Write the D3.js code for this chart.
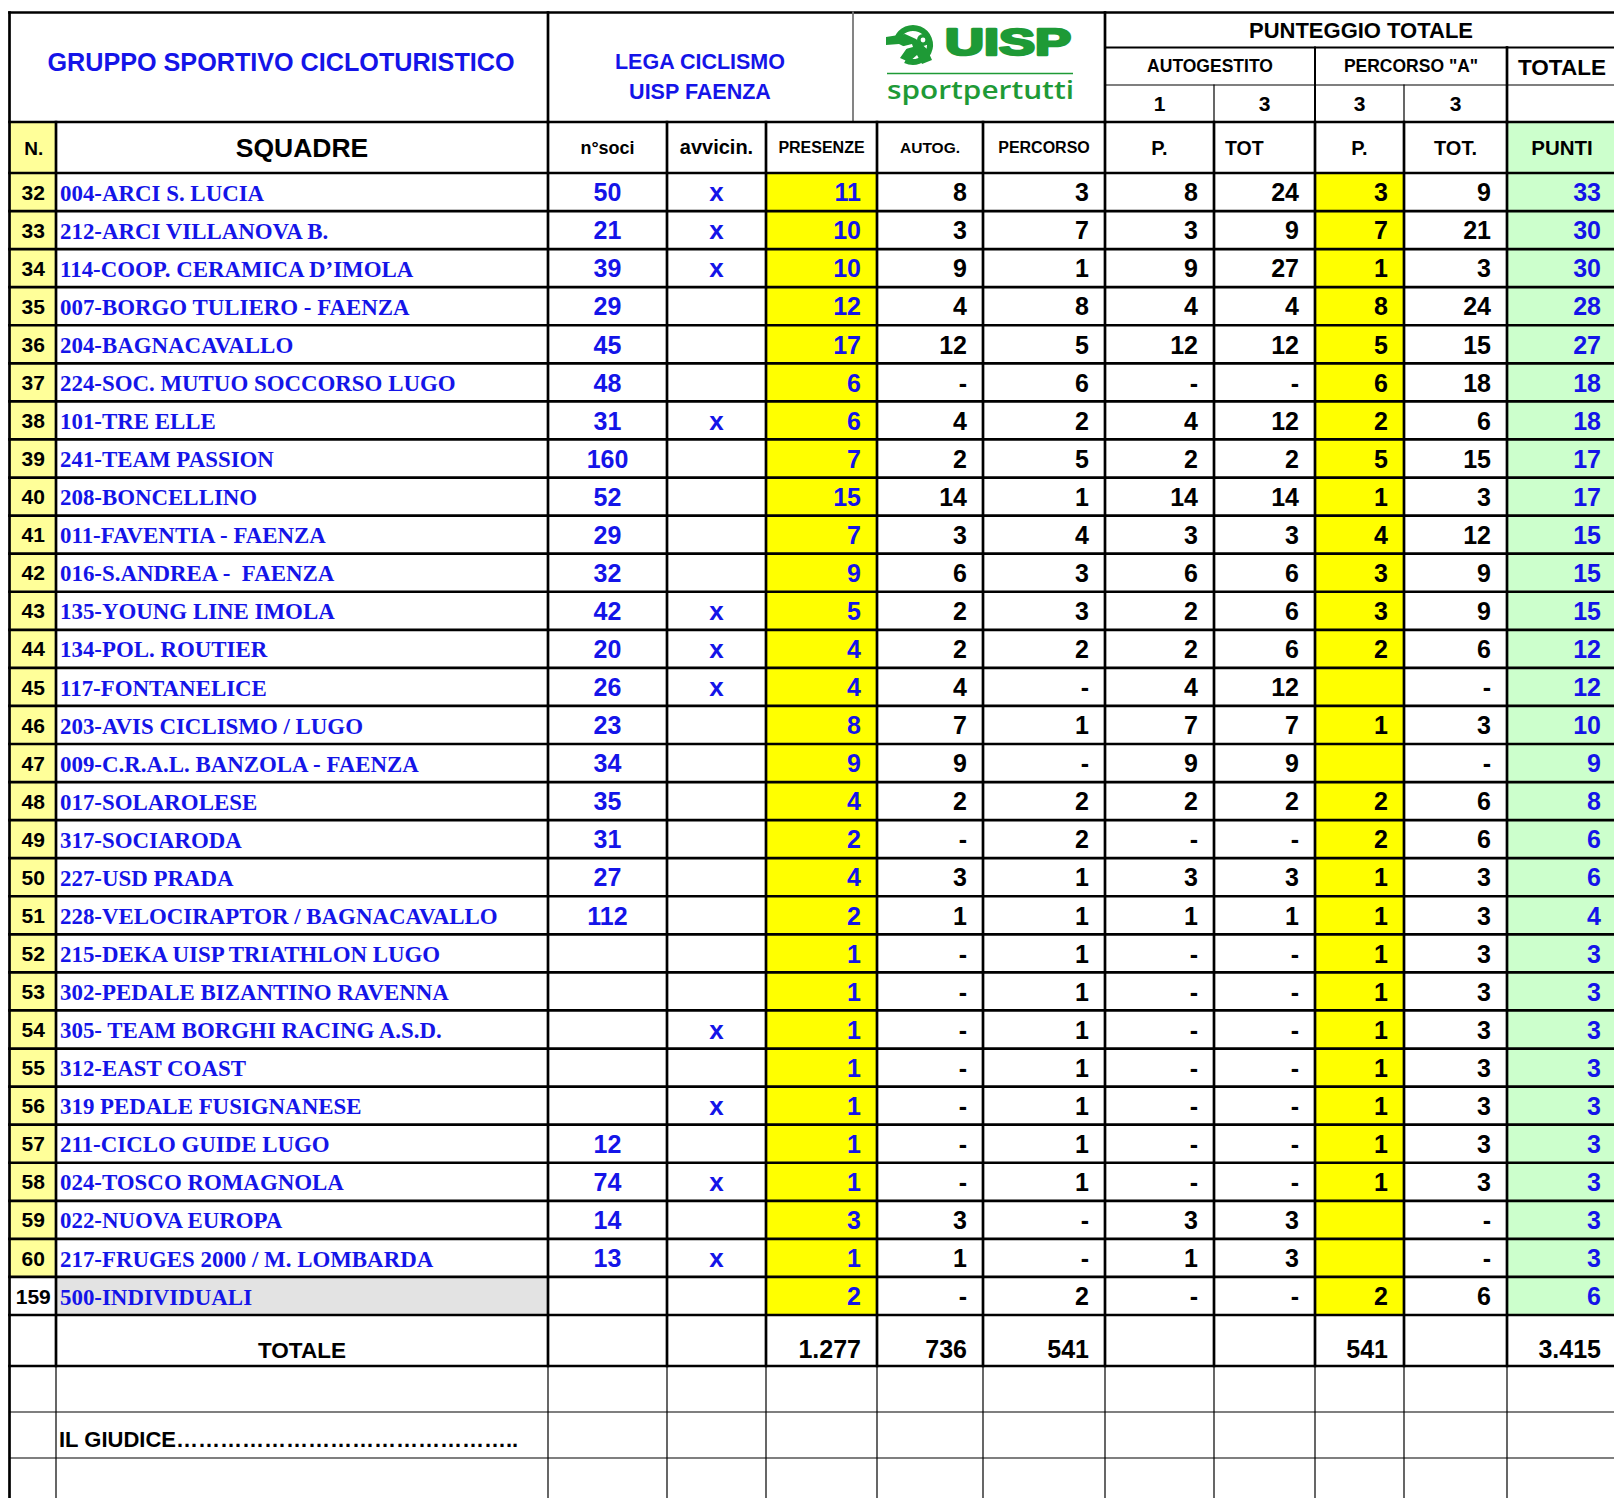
<!DOCTYPE html>
<html>
<head>
<meta charset="utf-8">
<script src="https://cdn.jsdelivr.net/npm/d3@7"></script>
<style>
  body { margin: 0; background: #fff; }
  svg { display: block; }
</style>
</head>
<body>
<div id="chart"></div>
<script>
// data
const teamNumbers = [32, 33, 34, 35, 36, 37, 38, 39, 40, 41, 42, 43, 44, 45, 46, 47, 48, 49, 50, 51, 52, 53, 54, 55, 56, 57, 58, 59, 60, 159]
const teamNames = [
  '004-ARCI S. LUCIA', '212-ARCI VILLANOVA B.', '114-COOP. CERAMICA D’IMOLA', '007-BORGO TULIERO - FAENZA',
  '204-BAGNACAVALLO', '224-SOC. MUTUO SOCCORSO LUGO', '101-TRE ELLE', '241-TEAM PASSION', '208-BONCELLINO',
  '011-FAVENTIA - FAENZA', '016-S.ANDREA -  FAENZA', '135-YOUNG LINE IMOLA', '134-POL. ROUTIER', '117-FONTANELICE',
  '203-AVIS CICLISMO / LUGO', '009-C.R.A.L. BANZOLA - FAENZA', '017-SOLAROLESE', '317-SOCIARODA', '227-USD PRADA',
  '228-VELOCIRAPTOR / BAGNACAVALLO', '215-DEKA UISP TRIATHLON LUGO', '302-PEDALE BIZANTINO RAVENNA',
  '305- TEAM BORGHI RACING A.S.D.', '312-EAST COAST', '319 PEDALE FUSIGNANESE', '211-CICLO GUIDE LUGO',
  '024-TOSCO ROMAGNOLA', '022-NUOVA EUROPA', '217-FRUGES 2000 / M. LOMBARDA', '500-INDIVIDUALI',
]
const soci = [50, 21, 39, 29, 45, 48, 31, 160, 52, 29, 32, 42, 20, 26, 23, 34, 35, 31, 27, 112, null, null, null, null, null, 12, 74, 14, 13, null]
const avvicin = ['x', 'x', 'x', '', '', '', 'x', '', '', '', '', 'x', 'x', 'x', '', '', '', '', '', '', '', '', 'x', '', 'x', '', 'x', '', 'x', '']
const presenze = [11, 10, 10, 12, 17, 6, 6, 7, 15, 7, 9, 5, 4, 4, 8, 9, 4, 2, 4, 2, 1, 1, 1, 1, 1, 1, 1, 3, 1, 2]
const autog = [8, 3, 9, 4, 12, 0, 4, 2, 14, 3, 6, 2, 2, 4, 7, 9, 2, 0, 3, 1, 0, 0, 0, 0, 0, 0, 0, 3, 1, 0]
const percorso = [3, 7, 1, 8, 5, 6, 2, 5, 1, 4, 3, 3, 2, 0, 1, 0, 2, 2, 1, 1, 1, 1, 1, 1, 1, 1, 1, 0, 0, 2]
const autogP = [8, 3, 9, 4, 12, 0, 4, 2, 14, 3, 6, 2, 2, 4, 7, 9, 2, 0, 3, 1, 0, 0, 0, 0, 0, 0, 0, 3, 1, 0]
const autogTot = [24, 9, 27, 4, 12, 0, 12, 2, 14, 3, 6, 6, 6, 12, 7, 9, 2, 0, 3, 1, 0, 0, 0, 0, 0, 0, 0, 3, 3, 0]
const percP = [3, 7, 1, 8, 5, 6, 2, 5, 1, 4, 3, 3, 2, null, 1, null, 2, 2, 1, 1, 1, 1, 1, 1, 1, 1, 1, null, null, 2]
const percTot = [9, 21, 3, 24, 15, 18, 6, 15, 3, 12, 9, 9, 6, 0, 3, 0, 6, 6, 3, 3, 3, 3, 3, 3, 3, 3, 3, 0, 0, 6]
const punti = [33, 30, 30, 28, 27, 18, 18, 17, 17, 15, 15, 15, 12, 12, 10, 9, 8, 6, 6, 4, 3, 3, 3, 3, 3, 3, 3, 3, 3, 6]
const totals = { pres: 1277, autog: 736, perc: 541, pP: 541, punti: 3415 }
const weights = ['1', '3', '3', '3']

;(function () {
  const W = 1614
  const H = 1498
  const BLUE = '#1414e8'
  const GREEN = '#1e9a36'
  const SANS = "'Liberation Sans', Arial, sans-serif"
  const SERIF = "'Liberation Serif', 'Times New Roman', serif"
  const THICK = 2.7

  const colKeys = ['n', 'name', 'soci', 'avv', 'pres', 'autog', 'perc', 'aP', 'aTot', 'pP', 'pTot', 'punti']
  const colEdges = [9.5, 56, 548, 667, 766, 877, 983, 1105, 1214, 1315, 1404, 1507, 1617]
  const colIdx = k => colKeys.indexOf(k)
  const left = k => colEdges[colIdx(k)]
  const right = k => colEdges[colIdx(k) + 1]
  const mid = k => (left(k) + right(k)) / 2

  const top = 12.5
  const y1 = 47.5
  const y2 = 85
  const yHead = 122
  const yBody = 173
  const yBodyEnd = 1315
  const yTot = 1366
  const blankRows = [1412, 1458]

  const row = d3.scaleBand().domain(d3.range(teamNumbers.length)).range([yBody, yBodyEnd])
  const fmt = d3.formatLocale({ decimal: ',', thousands: '.', grouping: [3], currency: ['', ''] }).format(',d')

  const svg = d3.select('#chart').append('svg').attr('width', W).attr('height', H)
  svg.append('rect').attr('width', W).attr('height', H).attr('fill', '#fff')

  // ---- fills
  const fills = svg.append('g')
  const idx = d3.range(teamNumbers.length)
  fills.selectAll('.nfill').data(idx.filter(i => teamNumbers[i] < 100)).join('rect')
    .attr('x', left('n')).attr('y', i => row(i)).attr('width', right('n') - left('n')).attr('height', row.bandwidth())
    .attr('fill', '#ffff99')
  fills.append('rect').attr('x', left('n')).attr('y', yHead).attr('width', right('n') - left('n')).attr('height', yBody - yHead).attr('fill', '#ffff99')
  fills.selectAll('.gfill').data(idx.filter(i => teamNumbers[i] >= 100)).join('rect')
    .attr('x', left('name')).attr('y', i => row(i)).attr('width', right('name') - left('name')).attr('height', row.bandwidth())
    .attr('fill', '#e3e3e3')
  ;['pres', 'pP'].forEach(k => {
    fills.append('rect').attr('x', left(k)).attr('y', yBody).attr('width', right(k) - left(k)).attr('height', yBodyEnd - yBody).attr('fill', '#ffff00')
  })
  fills.append('rect').attr('x', left('punti')).attr('y', yHead).attr('width', right('punti') - left('punti')).attr('height', yBodyEnd - yHead).attr('fill', '#ccffcc')

  // ---- grid lines
  const lines = svg.append('g').attr('stroke', '#000').attr('stroke-linecap', 'square')
  const hline = (x0, x1, y, w, c) => lines.append('line').attr('x1', x0).attr('x2', x1).attr('y1', y).attr('y2', y).attr('stroke-width', w).attr('stroke', c || '#000')
  const vline = (x, ya, yb, w, c) => lines.append('line').attr('x1', x).attr('x2', x).attr('y1', ya).attr('y2', yb).attr('stroke-width', w).attr('stroke', c || '#000')
  const xEnd = 1625

  // header top block
  hline(colEdges[0], xEnd, top, THICK)
  vline(548, top, yHead, THICK)
  vline(853, top, yHead, 1.8, '#777')
  vline(1105, top, yHead, THICK)
  hline(1105, xEnd, y1, 2)
  hline(1105, xEnd, y2, 1.2)
  vline(1315, y1, yHead, 2)
  vline(1507, y1, yHead, THICK)
  vline(1214, y2, yHead, 1.2)
  vline(1404, y2, yHead, 1.2)

  // body
  hline(colEdges[0], xEnd, yHead, THICK)
  hline(colEdges[0], xEnd, yBody, THICK)
  idx.forEach(i => hline(colEdges[0], xEnd, row(i) + row.bandwidth(), THICK))
  hline(colEdges[0], xEnd, yTot, THICK)
  blankRows.forEach(y => hline(colEdges[0], xEnd, y, 1.2))
  colEdges.slice(1).forEach(x => {
    vline(x, yHead, yTot, THICK)
    vline(x, yTot, H + 5, 1.2)
  })
  vline(colEdges[0], top, H + 5, THICK)

  // ---- text helper
  const txt = (x, y, s, o = {}) => svg.append('text')
    .attr('x', x).attr('y', y)
    .attr('text-anchor', o.anchor || 'middle')
    .attr('font-family', o.family || SANS)
    .attr('font-weight', o.weight || 'bold')
    .attr('font-size', o.size || 20)
    .attr('fill', o.fill || '#000')
    .text(s)

  // header top
  txt(281, 71, 'GRUPPO SPORTIVO CICLOTURISTICO', { size: 25, fill: BLUE }).attr('textLength', 467).attr('lengthAdjust', 'spacingAndGlyphs')
  txt(700, 69, 'LEGA CICLISMO', { size: 21.5, fill: BLUE })
  txt(700, 99, 'UISP FAENZA', { size: 21.5, fill: BLUE })
  txt(1361, 38, 'PUNTEGGIO TOTALE', { size: 22 })
  txt((1105 + 1315) / 2, 72, 'AUTOGESTITO', { size: 17.5 })
  txt((1315 + 1507) / 2, 72, 'PERCORSO "A"', { size: 17.5 })
  txt(1562, 75, 'TOTALE', { size: 22.5 })
  ;['aP', 'aTot', 'pP', 'pTot'].forEach((k, i) => txt(mid(k), 111, weights[i], { size: 21 }))

  // logo
  const logo = svg.append('g')
  logo.append('path').attr('fill', 'none').attr('stroke', GREEN).attr('stroke-width', 6)
    .attr('d', d3.arc()({ innerRadius: 17, outerRadius: 17, startAngle: -1.2, endAngle: 3.6 }))
    .attr('transform', 'translate(913,45)')
  logo.append('path').attr('fill', GREEN)
    .attr('d', 'M886,37 L905,34 L916,39 L927,49 L932,60 L922,64 L917,55 L909,62 L900,58 L907,48 L899,44 L886,45 Z')
  logo.append('circle').attr('cx', 923).attr('cy', 40).attr('r', 6).attr('fill', GREEN)
  logo.append('circle').attr('cx', 923).attr('cy', 40).attr('r', 2.4).attr('fill', '#fff')
  logo.append('path').attr('fill', '#fff').attr('d', 'M900,47 L912,44 L913,47 L902,50 Z')
  logo.append('text').attr('x', 945).attr('y', 55).attr('font-family', SANS).attr('font-weight', 'bold')
    .attr('font-size', 37).attr('fill', GREEN).attr('stroke', GREEN).attr('stroke-width', 2.6).attr('stroke-linejoin', 'round')
    .attr('textLength', 126).attr('lengthAdjust', 'spacingAndGlyphs').text('UISP')
  logo.append('line').attr('x1', 887).attr('x2', 1073).attr('y1', 73.5).attr('y2', 73.5).attr('stroke', GREEN).attr('stroke-width', 1.6)
  logo.append('text').attr('x', 887).attr('y', 98.5).attr('font-family', "'Open Sans', 'Noto Sans', sans-serif")
    .attr('font-size', 26).attr('font-weight', 600).attr('fill', GREEN)
    .attr('textLength', 187).attr('lengthAdjust', 'spacingAndGlyphs').text('sportpertutti')

  // header row 2
  const hb = (yHead + yBody) / 2
  txt(mid('n') + 1, hb + 7, 'N.', { size: 19 })
  txt(302, hb + 9.5, 'SQUADRE', { size: 26.5 })
  txt(mid('soci'), hb + 6, 'n°soci', { size: 18 })
  txt(mid('avv'), hb + 6, 'avvicin.', { size: 20 })
  txt(mid('pres'), hb + 5.5, 'PRESENZE', { size: 16 })
  txt(mid('autog'), hb + 5.5, 'AUTOG.', { size: 15.5 })
  txt(mid('perc'), hb + 5.5, 'PERCORSO', { size: 16 })
  txt(mid('aP'), hb + 7, 'P.', { size: 20 })
  txt(left('aTot') + 11, hb + 7, 'TOT', { size: 19.5, anchor: 'start' })
  txt(mid('pP'), hb + 7, 'P.', { size: 20 })
  txt(mid('pTot'), hb + 7, 'TOT.', { size: 20 })
  txt(mid('punti'), hb + 7, 'PUNTI', { size: 20.5 })

  // body cells
  const dash = v => (v === null ? '' : v === 0 ? '-' : String(v))
  const columns = [
    { key: 'soci', values: soci.map(v => (v === null ? '' : String(v))), fill: BLUE, anchor: 'middle' },
    { key: 'avv', values: avvicin, fill: BLUE, anchor: 'middle', size: 26 },
    { key: 'pres', values: presenze.map(String), fill: BLUE },
    { key: 'autog', values: autog.map(dash) },
    { key: 'perc', values: percorso.map(dash) },
    { key: 'aP', values: autogP.map(dash) },
    { key: 'aTot', values: autogTot.map(dash) },
    { key: 'pP', values: percP.map(dash) },
    { key: 'pTot', values: percTot.map(dash) },
    { key: 'punti', values: punti.map(String), fill: BLUE },
  ]
  const pad = 16
  const body = svg.append('g')
  const cy = i => row(i) + row.bandwidth() / 2

  body.selectAll('.num').data(idx).join('text')
    .attr('x', mid('n') + 0.5).attr('y', i => cy(i) + 7.6)
    .attr('text-anchor', 'middle').attr('font-family', SANS).attr('font-weight', 'bold').attr('font-size', 21)
    .text(i => teamNumbers[i])

  body.selectAll('.name').data(idx).join('text')
    .attr('x', left('name') + 4).attr('y', i => cy(i) + 8.6)
    .attr('font-family', SERIF).attr('font-weight', 'bold').attr('font-size', 22.9).attr('fill', BLUE)
    .style('white-space', 'pre')
    .text(i => teamNames[i])

  columns.forEach(c => {
    const anchor = c.anchor || 'end'
    const x = anchor === 'middle' ? mid(c.key) : right(c.key) - pad
    body.append('g').selectAll('text').data(idx).join('text')
      .attr('x', x).attr('y', i => cy(i) + 9.2)
      .attr('text-anchor', anchor).attr('font-family', SANS).attr('font-weight', 'bold')
      .attr('font-size', c.size || 25).attr('fill', c.fill || '#000')
      .text(i => c.values[i])
  })

  // totals row
  const ty = 1358
  txt(302, ty, 'TOTALE', { size: 22.5 })
  Object.keys(totals).forEach(k => txt(right(k) - pad, ty, fmt(totals[k]), { size: 25, anchor: 'end' }))

  // signature
  txt(left('name') + 3, 1447, 'IL GIUDICE' + '…'.repeat(15) + '..', { size: 22, anchor: 'start' })
})()
</script>
</body>
</html>
